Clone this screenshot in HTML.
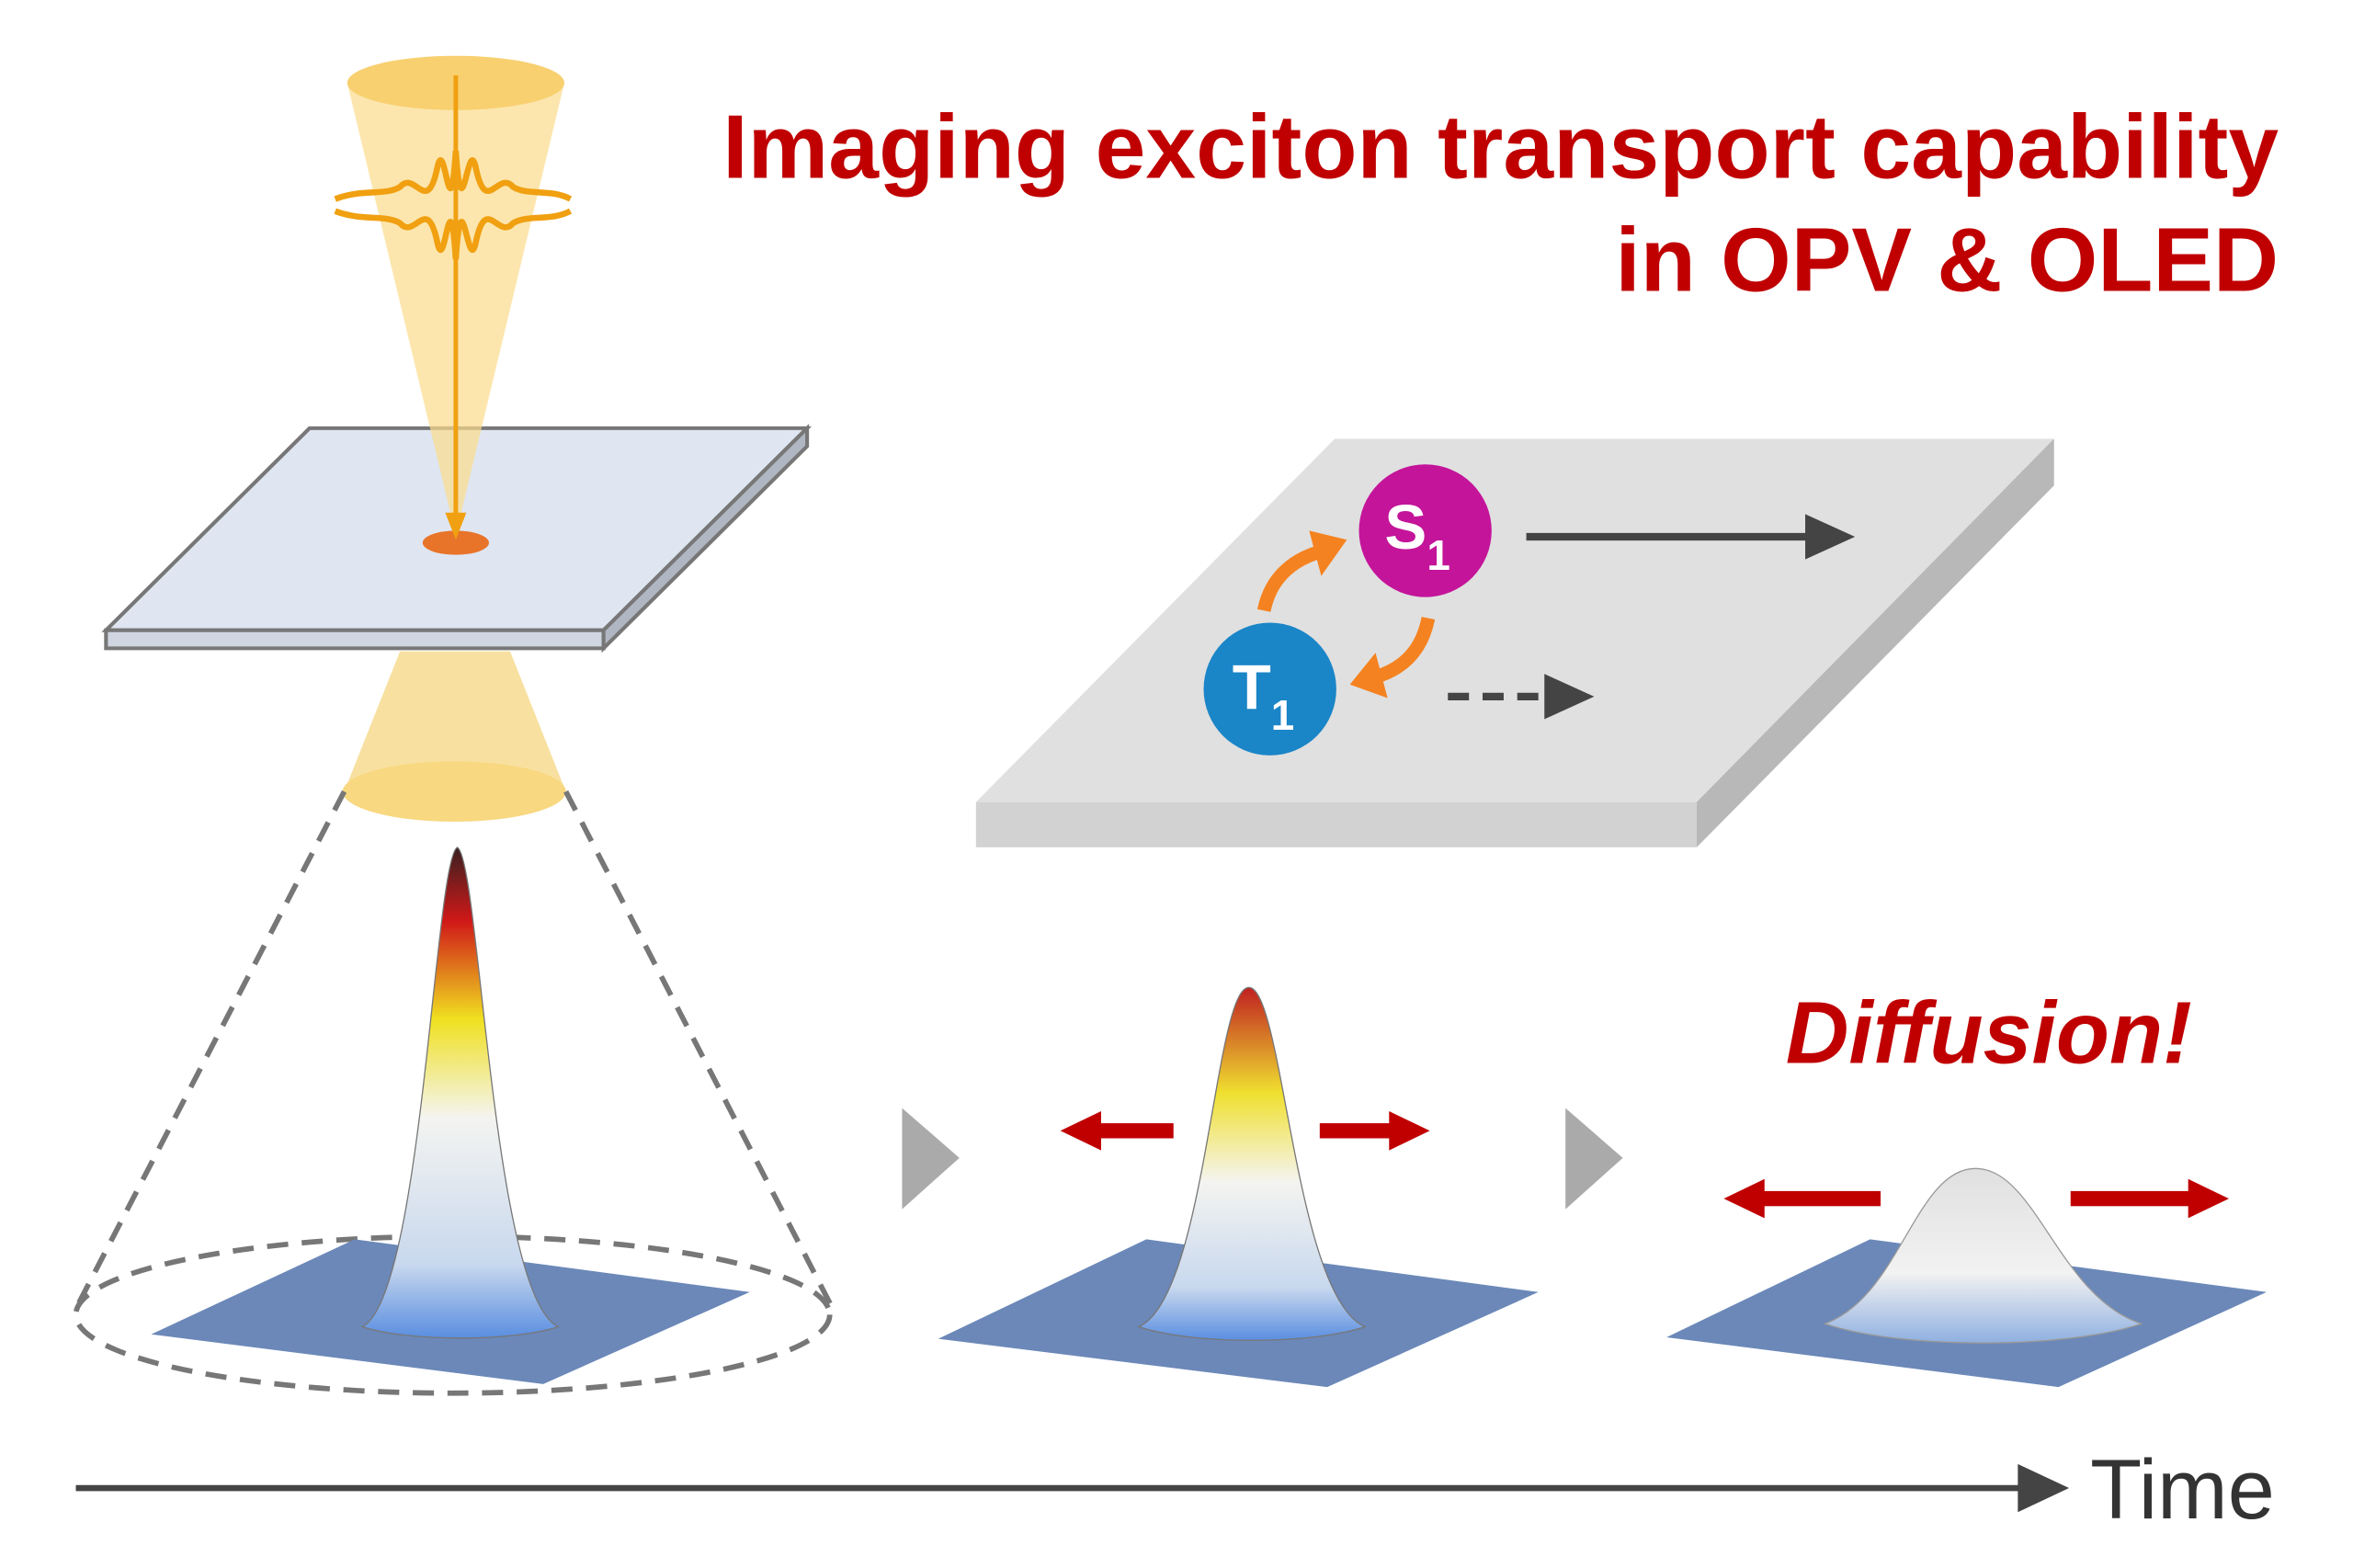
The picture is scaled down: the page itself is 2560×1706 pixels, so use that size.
<!DOCTYPE html>
<html><head><meta charset="utf-8"><style>html,body{margin:0;padding:0;background:#fff}svg{display:block}</style></head>
<body>
<svg width="2560" height="1706" viewBox="0 0 1560 1040" xmlns="http://www.w3.org/2000/svg">
<defs>
<linearGradient id="g1" x1="0" y1="0" x2="0" y2="1">
<stop offset="0" stop-color="#3a2020"/><stop offset="0.15" stop-color="#d01818"/><stop offset="0.35" stop-color="#f0e020"/><stop offset="0.55" stop-color="#f4f4f0"/><stop offset="0.85" stop-color="#c8d8ee"/><stop offset="1" stop-color="#5a8ee0"/></linearGradient>
<linearGradient id="g2" x1="0" y1="0" x2="0" y2="1">
<stop offset="0" stop-color="#c02020"/><stop offset="0.3" stop-color="#f0e030"/><stop offset="0.55" stop-color="#f4f4f0"/><stop offset="0.85" stop-color="#c8d8ee"/><stop offset="1" stop-color="#5a8ee0"/></linearGradient>
<linearGradient id="g3" x1="0" y1="0" x2="0" y2="1">
<stop offset="0" stop-color="#e0e0e0"/><stop offset="0.6" stop-color="#f2f2f2"/><stop offset="1" stop-color="#8fb0e0"/></linearGradient>
</defs>
<text x="1511" y="118" text-anchor="end" font-family="Liberation Sans, sans-serif" font-weight="bold" font-size="60" fill="#c00000" textLength="1032">Imaging exciton transport capability</text>
<text x="1511" y="193" text-anchor="end" font-family="Liberation Sans, sans-serif" font-weight="bold" font-size="60" fill="#c00000">in OPV &amp; OLED</text>
<!-- plate -->
<polygon points="205,284 535,284 400,418 70,418" fill="#dfe6f2" stroke="#777" stroke-width="2.5"/>
<polygon points="70,418 400,418 400,430 70,430" fill="#cfd6e2" stroke="#777" stroke-width="2.5"/>
<polygon points="400,418 535,284 535,296 400,430" fill="#b0b7c3" stroke="#777" stroke-width="2.5"/>
<ellipse cx="302" cy="360" rx="22" ry="8" fill="#e8742a"/>
<!-- laser cone -->
<polygon points="230,55 374,55 302,355" fill="#fbdc8a" opacity="0.7"/>
<ellipse cx="302" cy="55" rx="72" ry="18" fill="#f8d070"/>
<path d="M222,132 C240,125 255,130 265,124 C275,112 283,145 290,110 C295,90 298,160 302,100 C306,160 310,90 315,110 C322,145 330,112 340,124 C350,130 365,125 378,132" fill="none" stroke="#f0a010" stroke-width="4"/>
<path d="M222,140 C240,147 255,142 265,148 C275,160 283,127 290,162 C295,182 298,112 302,172 C306,112 310,182 315,162 C322,127 330,160 340,148 C350,142 365,147 378,140" fill="none" stroke="#f0a010" stroke-width="4"/>
<line x1="302" y1="50" x2="302" y2="345" stroke="#f0a010" stroke-width="3"/>
<polygon points="295,340 309,340 302,358" fill="#f0a010"/>
<!-- lower cone -->
<polygon points="265,432 338,432 375,525 228,525" fill="#f8e0a0"/>
<ellipse cx="301" cy="525" rx="74" ry="20" fill="#f8d880"/>
<g stroke="#777" stroke-width="3.5" stroke-dasharray="14,9" fill="none">
<line x1="228" y1="525" x2="50" y2="868"/><line x1="375" y1="525" x2="552" y2="868"/>
<ellipse cx="300" cy="872" rx="250" ry="52"/></g>
<!-- surface 1 -->
<polygon points="100,885 235,822 497,857 360,918" fill="#6b88b8"/>
<path d="M240,880 C280,860 288,570 303,562 C318,570 326,860 370,880 C340,890 270,890 240,880z" fill="url(#g1)" stroke="#777" stroke-width="0.8"/>
<!-- surface 2 -->
<polygon points="622,888 760,822 1020,857 880,920" fill="#6b88b8"/>
<path d="M755,880 C800,860 805,655 828,655 C851,655 858,860 905,880 C870,892 790,892 755,880z" fill="url(#g2)" stroke="#777" stroke-width="0.8"/>
<!-- surface 3 -->
<polygon points="1105,887 1240,822 1503,857 1365,920" fill="#6b88b8"/>
<path d="M1210,878 C1260,860 1270,775 1310,775 C1350,775 1365,860 1420,878 C1370,895 1260,895 1210,878z" fill="url(#g3)" stroke="#999" stroke-width="0.8"/>
<!-- triangles -->
<polygon points="598,735 598,802 636,768" fill="#aaa"/>
<polygon points="1038,735 1038,802 1076,768" fill="#aaa"/>
<!-- red arrows -->
<g fill="#c00000">
<rect x="728" y="745" width="50" height="10"/><polygon points="703,750 730,737 730,763"/>
<rect x="875" y="745" width="48" height="10"/><polygon points="948,750 921,737 921,763"/>
<rect x="1168" y="790" width="79" height="10"/><polygon points="1143,795 1170,782 1170,808"/>
<rect x="1373" y="790" width="80" height="10"/><polygon points="1478,795 1451,782 1451,808"/>
</g>
<text x="1184" y="705" font-family="Liberation Sans, sans-serif" font-weight="bold" font-style="italic" font-size="58" fill="#c00000">Diffusion!</text>
<!-- slab -->
<polygon points="885,291 1362,291 1125,532 647,532" fill="#e0e0e0"/>
<polygon points="647,532 1125,532 1125,562 647,562" fill="#d2d2d2"/>
<polygon points="1125,532 1362,291 1362,322 1125,562" fill="#b8b8b8"/>
<line x1="1012" y1="356" x2="1200" y2="356" stroke="#444" stroke-width="5"/>
<polygon points="1230,356 1197,341 1197,371" fill="#444"/>
<line x1="960" y1="462" x2="1030" y2="462" stroke="#444" stroke-width="5" stroke-dasharray="14,9"/>
<polygon points="1057,462 1024,447 1024,477" fill="#444"/>
<path d="M838,405 C842,385 855,372 875,366" fill="none" stroke="#f58220" stroke-width="9"/>
<polygon points="893,358 868,352 876,382" fill="#f58220"/>
<path d="M947,410 C943,430 932,443 912,449" fill="none" stroke="#f58220" stroke-width="9"/>
<polygon points="895,454 920,463 912,433" fill="#f58220"/>
<circle cx="945" cy="352" r="44" fill="#c4149a"/>
<circle cx="842" cy="457" r="44" fill="#1a85c7"/>
<text x="918" y="364" font-family="Liberation Sans, sans-serif" font-weight="bold" font-size="42" fill="#fff">S<tspan font-size="28" dy="14">1</tspan></text>
<text x="817" y="470" font-family="Liberation Sans, sans-serif" font-weight="bold" font-size="42" fill="#fff">T<tspan font-size="28" dy="14">1</tspan></text>
<!-- time axis -->
<line x1="50" y1="987" x2="1345" y2="987" stroke="#444" stroke-width="4"/>
<polygon points="1372,987 1338,971 1338,1003" fill="#444"/>
<text x="1386" y="1007" font-family="Liberation Sans, sans-serif" font-size="56" fill="#333">Time</text>
</svg>
</body></html>
